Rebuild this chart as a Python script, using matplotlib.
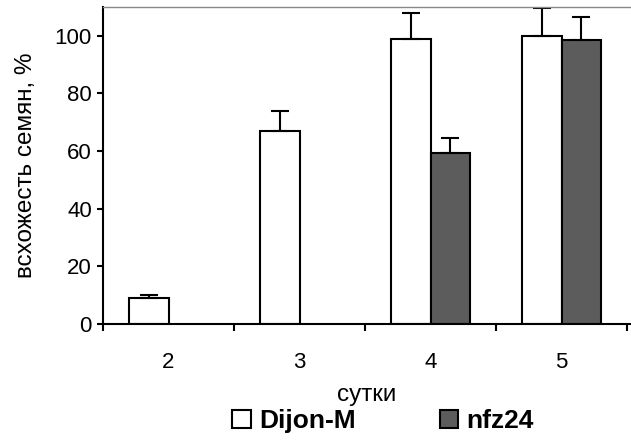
import numpy as np
import matplotlib.pyplot as plt

plt.rcParams['font.family'] = ['Liberation Sans', 'DejaVu Sans']

# data
days = ["2", "3", "4", "5"]
dijon = [9, 67, 99, 100]
dijon_err = [1, 7, 9, 9.5]
nfz = [0, 0, 59.5, 98.5]
nfz_err = [0, 0, 5, 8]

x = np.arange(len(days))
w = 0.3

fig = plt.figure(figsize=(6.31, 4.40), dpi=100)
ax = fig.add_axes([103 / 631, 1 - 324 / 440, 1 - 103 / 631, (324 - 7) / 440])

ekw = dict(ecolor="black", elinewidth=1.5, capsize=6.5, capthick=1.5)
ax.bar(x - w / 2, dijon, w, color="white", edgecolor="black", linewidth=1.5,
       yerr=[np.zeros(len(dijon)), dijon_err], error_kw=ekw, label="Dijon-M", zorder=2)

m = np.array(nfz) > 0
ax.bar(x[m] + w / 2, np.array(nfz)[m], w, color="#5c5c5c", edgecolor="black", linewidth=1.5,
       yerr=[np.zeros(m.sum()), np.array(nfz_err)[m]], error_kw=ekw, label="nfz24", zorder=2)

ax.set_ylim(0, 110)
ax.set_xlim(-0.5, 3.53)
ax.set_yticks([0, 20, 40, 60, 80, 100])
ax.set_xticks(x)
ax.set_xticklabels(days)
ax.set_xticks(np.arange(-0.5, 4, 1), minor=True)
ax.tick_params(axis="x", which="major", length=0, pad=20, labelsize=16)
ax.tick_params(axis="x", which="minor", length=5, width=1.5, direction="out")
ax.tick_params(axis="y", length=4, width=1.5, labelsize=16, pad=4)

ax.spines["left"].set_linewidth(1.5)
ax.spines["bottom"].set_linewidth(1.5)
ax.spines["right"].set_visible(False)
ax.spines["top"].set_color("#888888")
ax.spines["top"].set_linewidth(1)

ax.set_ylabel("всхожесть семян, %", fontsize=17.5, labelpad=13)
ax.set_xlabel("сутки", fontsize=17.5, labelpad=8)

fig.legend(loc="center", bbox_to_anchor=(0.607, 1 - 421 / 440), ncol=2, frameon=False,
           prop={"size": 19, "weight": "bold"}, columnspacing=3.2, handlelength=0.7,
           handleheight=0.7, handletextpad=0.3)

fig.savefig("out.png", dpi=100)
